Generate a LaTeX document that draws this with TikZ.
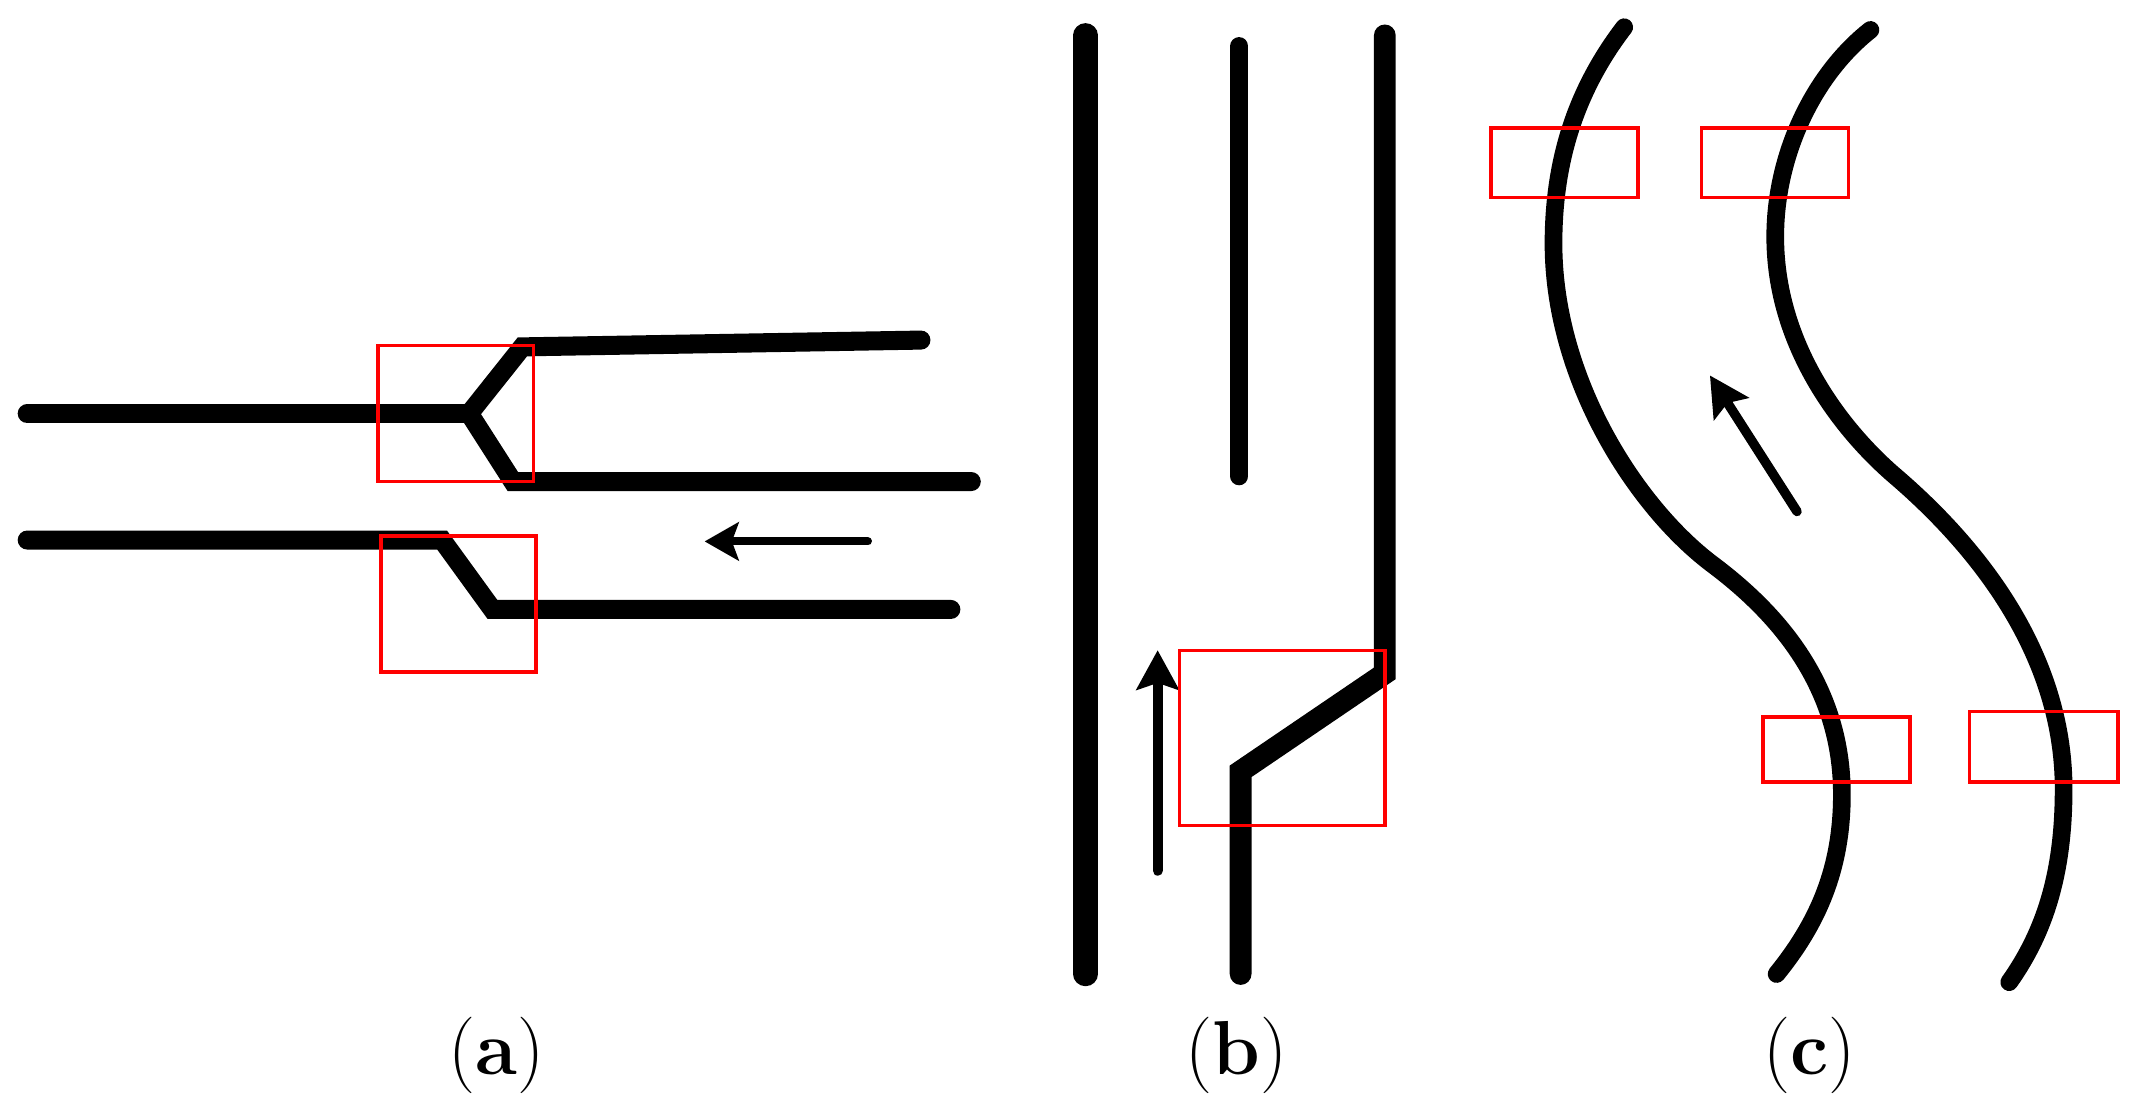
\documentclass[tikz,border=0pt]{standalone}
\usetikzlibrary{arrows.meta}
\begin{document}
\begin{tikzpicture}[x=0.1mm,y=-0.1mm,
  road/.style={line width=1.4mm, line cap=round, line join=miter},
  redbox/.style={draw=red, line width=0.25mm},
  flow/.style={line width=0.6mm, line cap=round, -{Stealth[length=2.5mm,width=2.8mm,inset=0.5mm]}},
  lbl/.style={font=\fontsize{16}{18}\selectfont, inner sep=0pt}]
\useasboundingbox (0,0) rectangle (1568,816);

% ---------- (a) ----------
\coordinate (a1) at (20,304);
\coordinate (aj) at (345,304);
\coordinate (au) at (384,255);
\coordinate (aue) at (677,250);
\coordinate (ad) at (377,354);
\coordinate (ade) at (714,354);
\draw[road] (a1) -- (aj);
\draw[road] (aue) -- (au) -- (aj) -- (ad) -- (ade);
\coordinate (b1) at (20,397);
\coordinate (bc) at (325,397);
\coordinate (bd) at (362,448);
\coordinate (be) at (699,448);
\draw[road] (b1) -- (bc) -- (bd) -- (be);
\coordinate (aat) at (638,398);
\coordinate (aah) at (518,398);
\draw[flow] (aat) -- (aah);
\draw[redbox] (278,254) rectangle (392,354);
\draw[redbox] (280,394) rectangle (394,494);

% ---------- (b) ----------
\coordinate (l1) at (798,26);
\coordinate (l2) at (798,716);
\draw[road, line width=1.8mm] (l1) -- (l2);
\coordinate (m1) at (911,34);
\coordinate (m2) at (911,350);
\draw[road, line width=1.35mm] (m1) -- (m2);
\coordinate (r1) at (1018,26);
\coordinate (r2) at (1018,495);
\coordinate (r3) at (912,567);
\coordinate (r4) at (912,716);
\draw[road, line width=1.6mm] (r1) -- (r2) -- (r3) -- (r4);
\coordinate (bat) at (851,640);
\coordinate (bah) at (851,478);
\draw[flow, line width=0.75mm, -{Stealth[length=2.9mm,width=3.1mm,inset=0.5mm]}] (bat) -- (bah);
\draw[redbox] (867,478) rectangle (1018,607);

% ---------- (c) ----------
\coordinate (c1) at (1194,20);
\coordinate (c2) at (1142,179);
\coordinate (c3) at (1259,415);
\coordinate (c4) at (1354,584);
\coordinate (c5) at (1306,716);
\draw[road, line width=1.3mm]
  (c1) .. controls (1158,67) and (1142,119) .. (c2)
       .. controls (1142,279) and (1203,373) .. (c3)
       .. controls (1307,451) and (1354,504) .. (c4)
       .. controls (1354,639) and (1336,679) .. (c5);
\coordinate (d1) at (1375,22);
\coordinate (d2) at (1305,174);
\coordinate (d3) at (1392,349);
\coordinate (d4) at (1517,580);
\coordinate (d5) at (1477,722);
\draw[road, line width=1.3mm]
  (d1) .. controls (1333,55) and (1305,114) .. (d2)
       .. controls (1305,254) and (1354,316) .. (d3)
       .. controls (1453,401) and (1517,480) .. (d4)
       .. controls (1517,640) and (1504,684) .. (d5);
\coordinate (cat) at (1321,376);
\coordinate (cah) at (1257,276);
\draw[flow, line width=0.7mm, -{Stealth[length=2.9mm,width=3.0mm,inset=0.5mm]}] (cat) -- (cah);
\draw[redbox] (1096,94) rectangle (1204,145);
\draw[redbox] (1251,94) rectangle (1359,145);
\draw[redbox] (1296,527) rectangle (1404,575);
\draw[redbox] (1448,523) rectangle (1557,575);

% ---------- labels ----------
\node[lbl] (la) at (365,776) {(\textbf{a})};
\node[lbl] (lb) at (909,776) {(\textbf{b})};
\node[lbl] (lc) at (1330,776) {(\textbf{c})};
\end{tikzpicture}
\end{document}
